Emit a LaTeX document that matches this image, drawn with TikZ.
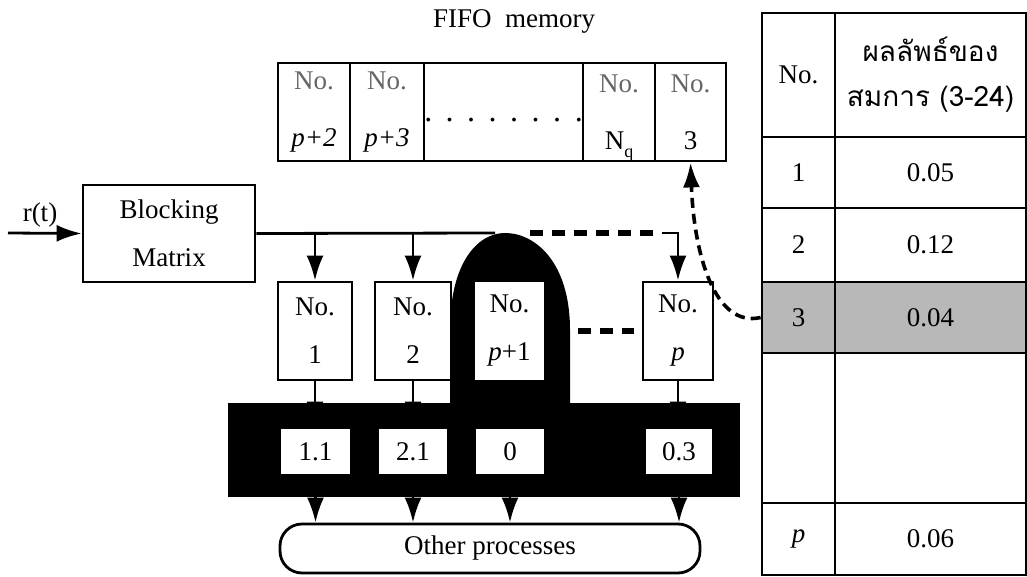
\documentclass[tikz,border=0pt]{standalone}
\usepackage{fontspec}
\setmainfont{Liberation Serif}
\newfontfamily\thaifont[Script=Thai]{Loma}
\usetikzlibrary{arrows.meta}
\tikzset{
    box/.style={draw, line width=1.4pt, fill=white, align=center, inner sep=0pt,
        font=\fontsize{13.5}{24}\selectfont},
    fifocell/.style={box, minimum height=49pt, font=\fontsize{13.5}{28.5}\selectfont},
    numbox/.style={box, minimum height=49pt},
    valbox/.style={box, minimum height=23.5pt},
    tcell/.style={draw, line width=1.4pt, align=center, inner sep=0pt,
        font=\fontsize{13.5}{24}\selectfont},
    conn/.style={line width=1.4pt},
    dashconn/.style={line width=2.6pt, dash pattern=on 6.5pt off 4.5pt},
}
\newcommand{\faded}[1]{\textcolor{black!60}{#1}}
\newcommand{\fifodot}{\raisebox{-5pt}[0pt][0pt]{\fontsize{16}{16}\selectfont.}}
\begin{document}
\begin{tikzpicture}[x=0.5pt, y=-0.5pt, >={Latex[length=12.5pt,width=8.5pt]}]
    \useasboundingbox (0,0) rectangle (1027,577);

    \fill[black] (228,403) rectangle (740,497);
    \fill[black] (450,404) -- (450,330) .. controls (450,262) and (478,233) .. (505,233)
        .. controls (535,233) and (570,262) .. (570,330) -- (570,404) -- cycle;

    \node[font=\fontsize{13.5}{16}\selectfont] (title) at (514,21) {FIFO\ \ memory};
    \node[fifocell, minimum width=36pt] (fpa) at (314,112) {\faded{No.}\\\textit{p+2}};
    \node[fifocell, minimum width=37pt] (fpb) at (387,112) {\faded{No.}\\\textit{p+3}};
    \node[fifocell, minimum width=79.5pt] (fdots) at (503.5,112)
        {\fifodot\ \ \fifodot\ \ \fifodot\ \ \fifodot\ \ \fifodot\ \ \fifodot\ \ \fifodot\ \ \fifodot};
    \node[fifocell, minimum width=36pt] (fnq) at (619,112)
        {\faded{No.}\\N\raisebox{-4pt}[0pt][0pt]{\fontsize{9}{9}\selectfont q}};
    \node[fifocell, minimum width=35.5pt] (fthree) at (690.5,112) {\faded{No.}\\3};

    \node[box, minimum width=86pt, minimum height=48.5pt] (blk) at (169,233.5) {Blocking\\Matrix};
    \coordinate (rin) at (8,233);
    \node[font=\fontsize{13.5}{16}\selectfont] (rt) at (40,215) {r(t)};
    \draw[->, conn] (rin) -- (blk.west);

    \node[numbox, minimum width=37pt] (n1) at (315,331) {No.\\1};
    \node[numbox, minimum width=38pt] (n2) at (413,331) {No.\\2};
    \node[numbox, minimum width=34.5pt, draw=none] (npone) at (509.5,331) {No.\\\textit{p}+1};
    \node[numbox, minimum width=35pt] (np) at (678,331) {No.\\\textit{p}};

    \node[valbox, minimum width=35.5pt] (v1) at (315.5,451.5) {1.1};
    \node[valbox, minimum width=35pt] (v2) at (413,451.5) {2.1};
    \node[valbox, minimum width=35pt] (vpone) at (510,451.5) {0};
    \node[valbox, minimum width=34pt] (vp) at (679,451.5) {0.3};

    \node[box, rounded corners=11pt, minimum width=210pt, minimum height=24.5pt] (other) at (490,548.5) {Other processes};

    \coordinate (busend) at (495,233);
    \coordinate (dasha) at (530,233);
    \coordinate (dashb) at (662,233);
    \coordinate (gapa) at (578,331);
    \coordinate (gapb) at (634,331);

    \draw[conn] (blk.east) -- (busend);
    \draw[->, conn] (n1.north |- blk.east) -- (n1.north);
    \draw[->, conn] (n2.north |- blk.east) -- (n2.north);
    \draw[dashconn] (dasha) -- (dashb);
    \draw[->, conn] (dashb) -| (np.north);
    \draw[dashconn] (gapa) -- (gapb);

    \draw[->, conn] (n1.south) -- (n1.south |- v1.north);
    \draw[->, conn] (n2.south) -- (n2.south |- v2.north);
    \draw[->, conn] (np.south) -- (np.south |- vp.north);

    \draw[->, conn] (v1.south) -- (v1.south |- other.north);
    \draw[->, conn] (v2.south) -- (v2.south |- other.north);
    \draw[->, conn] (vpone.south) -- (vpone.south |- other.north);
    \draw[->, conn] (vp.south) -- (vp.south |- other.north);

    \fill[black!28] (762,282) rectangle (1026,353);
    \node[tcell, minimum width=36.5pt, minimum height=62pt] (hn) at (798.5,75) {No.};
    \node[tcell, minimum width=95.5pt, minimum height=62pt,
        font=\thaifont\fontsize{14}{22.5}\selectfont] (hv) at (930.5,75) {ผลลัพธ์ของ\\สมการ (3-24)};
    \foreach \i/\ya/\yb/\na/\va in {1/137/208/1/0.05, 2/208/282/2/0.12, 3/282/353/3/0.04,
        4/353/503//, 5/503/575/\textit{p}/0.06} {
        \node[tcell, minimum width=36.5pt, minimum height={(\yb-\ya)*0.5pt}]
            (c\i) at (798.5,{(\ya+\yb)/2}) {\na};
        \node[tcell, minimum width=95.5pt, minimum height={(\yb-\ya)*0.5pt}]
            (d\i) at (930.5,{(\ya+\yb)/2}) {\va};
    }

    \draw[->, line width=1.8pt, dash pattern=on 5pt off 3pt]
        (c3.west) .. controls (715,328) and (694,255) .. (fthree.south);
\end{tikzpicture}
\end{document}
